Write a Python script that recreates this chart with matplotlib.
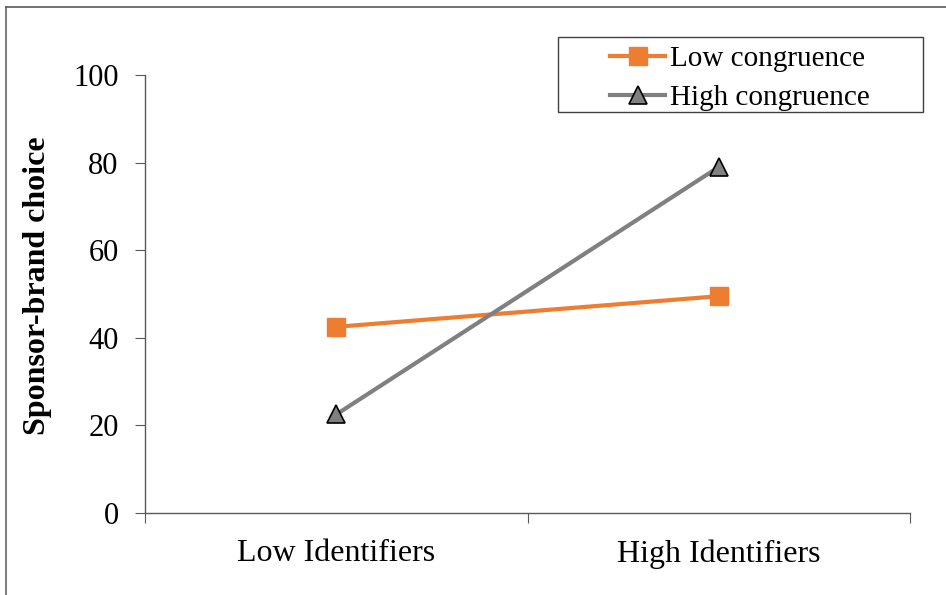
import matplotlib.pyplot as plt
from matplotlib.lines import Line2D
from matplotlib.patches import Rectangle

plt.rcParams['font.family'] = ['Liberation Serif', 'DejaVu Serif']

groups = ['Low Identifiers', 'High Identifiers']
low_congruence = [42.5, 49.5]
high_congruence = [22.5, 79.0]
y_ticks = [0, 20, 40, 60, 80, 100]

orange = '#ED7D31'
grey = '#808080'
axis_col = '#595959'
W, H = 946, 595

fig = plt.figure(figsize=(W / 100, H / 100), dpi=100)
ax = fig.add_axes([145 / W, 1 - 513 / H, 765 / W, 438 / H])

# categories sit in the middle of each slot, ticks mark the slot edges
xpos = [i + 0.5 for i in range(len(groups))]
ax.plot(xpos, low_congruence, color=orange, lw=3, marker='s', ms=12.5,
        mfc=orange, mec=orange, label='Low congruence', zorder=3)
ax.plot(xpos, high_congruence, color=grey, lw=3, marker='^', ms=13,
        mfc=grey, mec='black', mew=1.2, label='High congruence', zorder=3)

ax.set_xlim(0, len(groups))
ax.set_ylim(0, 100)
ax.set_xticks(range(len(groups) + 1))
ax.set_xticklabels([])
ax.set_xticks(xpos, minor=True)
ax.set_xticklabels(groups, minor=True, fontsize=23)
ax.tick_params(axis='x', which='minor', length=0, pad=19)
ax.tick_params(axis='x', which='major', direction='out', length=7, color=axis_col)
ax.set_yticks(y_ticks)
ax.tick_params(axis='y', direction='out', length=7, color=axis_col, labelsize=22, pad=12)

for side in ['top', 'right']:
    ax.spines[side].set_visible(False)
for side in ['left', 'bottom']:
    ax.spines[side].set_color(axis_col)
    ax.spines[side].set_linewidth(1.0)

fig.text(38 / W, 1 - 286 / H, 'Sponsor-brand choice', rotation=90, fontsize=23,
         fontweight='bold', ha='center', va='center')

# legend box drawn separately so it can carry the wide left margin
fig.add_artist(Rectangle((558 / W, 1 - 112 / H), 365 / W, 75 / H, transform=fig.transFigure,
                         fill=False, edgecolor='#404040', lw=1.0))
ax.legend(loc='upper left', bbox_to_anchor=(610 / W, 1 - 46 / H), bbox_transform=fig.transFigure,
          fontsize=21, frameon=False, handlelength=1.9, handletextpad=0.17,
          borderpad=0, labelspacing=0.43, borderaxespad=0)

# outer chart-area border (left and top edges)
fig.add_artist(Line2D([6 / W, 6 / W], [0, 1 - 7 / H], transform=fig.transFigure,
                      color='#7f7f7f', lw=1.5))
fig.add_artist(Line2D([6 / W, 1], [1 - 7 / H, 1 - 7 / H], transform=fig.transFigure,
                      color='#595959', lw=1.2))

fig.savefig('out.png', dpi=100)
